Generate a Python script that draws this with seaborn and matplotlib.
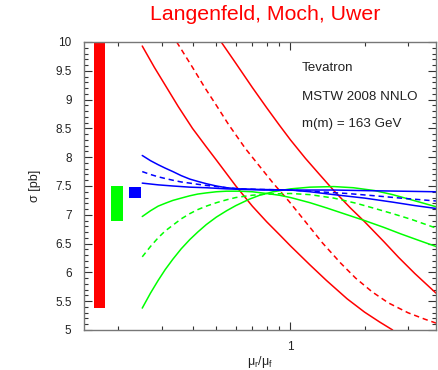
import matplotlib
matplotlib.use("Agg")
import matplotlib.pyplot as plt
import matplotlib.ticker as mticker
import seaborn as sns
import pandas as pd
import numpy as np

# ---------------- data ----------------
# red band (three curves)
red_lo_mu = [0.25, 0.28, 0.31, 0.35, 0.4, 0.455, 0.5, 0.6, 0.7, 0.8, 0.9, 1.0, 1.2, 1.4, 1.7, 2.0, 2.3, 2.6]
red_lo_sig = [9.93, 9.56, 9.25, 8.88, 8.50, 8.18, 7.95, 7.50, 7.15, 6.88, 6.66, 6.46, 6.13, 5.86, 5.54, 5.31, 5.14, 5.0]
red_mid_mu = [0.345, 0.4, 0.45, 0.5, 0.56, 0.656, 0.75, 0.85, 0.988, 1.15, 1.35, 1.6, 1.84, 2.15, 2.5, 3.0, 3.5, 3.9]
red_mid_sig = [10.0, 9.56, 9.20, 8.90, 8.57, 8.15, 7.84, 7.55, 7.23, 6.88, 6.51, 6.16, 5.90, 5.66, 5.47, 5.30, 5.19, 5.12]
red_hi_mu = [0.523, 0.6, 0.7, 0.8, 0.9, 1.0, 1.15, 1.3, 1.5, 1.75, 2.0, 2.4, 2.75, 3.2, 3.9]
red_hi_sig = [10.0, 9.63, 9.21, 8.86, 8.56, 8.30, 7.98, 7.72, 7.42, 7.12, 6.88, 6.53, 6.26, 5.98, 5.64]

# green band
green_a_mu = [0.25, 0.27, 0.29, 0.31, 0.333, 0.36, 0.39, 0.42, 0.455, 0.5, 0.55, 0.62, 0.7, 0.8, 0.9,
              1.0, 1.2, 1.4, 1.7, 2.0, 2.4, 2.8, 3.3, 3.9]
green_a_sig = [6.97, 7.07, 7.15, 7.20, 7.25, 7.29, 7.33, 7.36, 7.38, 7.40, 7.41, 7.41, 7.40, 7.37, 7.34,
               7.30, 7.21, 7.12, 7.00, 6.90, 6.78, 6.67, 6.56, 6.45]
green_mid_mu = [0.25, 0.27, 0.29, 0.31, 0.333, 0.36, 0.39, 0.42, 0.455, 0.5, 0.55, 0.6, 0.7, 0.8,
                1.0, 1.2, 1.5, 1.85, 2.2, 2.6, 3.1, 3.9]
green_mid_sig = [6.27, 6.45, 6.60, 6.72, 6.82, 6.93, 7.02, 7.09, 7.15, 7.21, 7.26, 7.30, 7.34, 7.36,
                 7.37, 7.35, 7.29, 7.20, 7.11, 7.02, 6.92, 6.77]
green_c_mu = [0.25, 0.27, 0.29, 0.31, 0.333, 0.36, 0.39, 0.42, 0.455, 0.5, 0.55, 0.6, 0.68, 0.75, 0.85,
              1.0, 1.2, 1.5, 1.8, 2.2, 2.6, 3.1, 3.9]
green_c_sig = [5.38, 5.64, 5.86, 6.05, 6.23, 6.41, 6.57, 6.70, 6.83, 6.96, 7.07, 7.16, 7.27, 7.34, 7.40,
               7.45, 7.48, 7.49, 7.47, 7.42, 7.35, 7.26, 7.14]

# blue band
blue_a_mu = [0.25, 0.27, 0.29, 0.31, 0.333, 0.36, 0.39, 0.42, 0.455, 0.5, 0.55, 0.62, 0.75, 1.0,
             1.2, 1.5, 2.0, 2.6, 3.2, 3.9]
blue_a_sig = [8.03, 7.94, 7.87, 7.81, 7.75, 7.68, 7.62, 7.58, 7.54, 7.50, 7.47, 7.45, 7.44, 7.43,
              7.40, 7.35, 7.29, 7.22, 7.16, 7.11]
blue_mid_mu = [0.25, 0.27, 0.29, 0.31, 0.333, 0.36, 0.39, 0.42, 0.455, 0.5, 0.55, 0.62, 0.75, 1.0,
               1.3, 1.7, 2.2, 2.8, 3.9]
blue_mid_sig = [7.75, 7.70, 7.66, 7.63, 7.60, 7.57, 7.55, 7.53, 7.51, 7.49, 7.47, 7.45, 7.44, 7.43,
                7.40, 7.37, 7.33, 7.29, 7.24]
blue_c_mu = [0.25, 0.29, 0.333, 0.39, 0.455, 0.55, 0.65, 0.8, 1.0, 1.5, 2.0, 2.8, 3.9]
blue_c_sig = [7.55, 7.52, 7.50, 7.48, 7.47, 7.45, 7.44, 7.43, 7.43, 7.43, 7.42, 7.41, 7.40]

# error bars (left, right, low, high)
bar_left = [0.159, 0.1875, 0.221]
bar_right = [0.177, 0.209, 0.247]
bar_low = [5.38, 6.90, 7.30]
bar_high = [10.5, 7.50, 7.49]
bar_colors = ["#ff0000", "#00ff00", "#0000ff"]

info_lines = ["Tevatron", "MSTW 2008 NNLO", "m(m) = 163 GeV"]

# ---------------- plot ----------------
sns.set_style("ticks")
plt.rcParams["font.family"] = ["Liberation Sans", "DejaVu Sans"]
plt.rcParams["mathtext.fontset"] = "custom"
plt.rcParams["mathtext.rm"] = "Liberation Sans"
plt.rcParams["mathtext.it"] = "Liberation Sans:italic"

fig = plt.figure(figsize=(4.38, 3.70), dpi=100)
ax = fig.add_axes([84 / 438, 40 / 370, 352 / 438, 288 / 370])
ax.set_xscale("log")

RED, GREEN, BLUE = "#ff0000", "#00ff00", "#0000ff"
dash = (0, (3.5, 2.5))
curves = [
    (red_lo_mu, red_lo_sig, RED, "-"),
    (red_mid_mu, red_mid_sig, RED, dash),
    (red_hi_mu, red_hi_sig, RED, "-"),
    (green_a_mu, green_a_sig, GREEN, "-"),
    (green_mid_mu, green_mid_sig, GREEN, dash),
    (green_c_mu, green_c_sig, GREEN, "-"),
    (blue_a_mu, blue_a_sig, BLUE, "-"),
    (blue_mid_mu, blue_mid_sig, BLUE, dash),
    (blue_c_mu, blue_c_sig, BLUE, "-"),
]
for mu, sig, col, ls in curves:
    df = pd.DataFrame({"mu": mu, "sigma": sig})
    sns.lineplot(data=df, x="mu", y="sigma", color=col, linestyle=ls,
                 linewidth=1.1, estimator=None, ax=ax)

for l, r, lo, hi, c in zip(bar_left, bar_right, bar_low, bar_high, bar_colors):
    ax.bar(l, hi - lo, width=r - l, bottom=lo, align="edge", color=c,
           edgecolor="none", linewidth=0)

ax.set_xlim(0.145, 3.9)
ax.set_ylim(5, 10)

# ticks
ax.yaxis.set_major_locator(mticker.MultipleLocator(0.5))
ax.yaxis.set_minor_locator(mticker.MultipleLocator(0.1))
ax.yaxis.set_major_formatter(mticker.FuncFormatter(lambda v, p: f"{v:g}"))
ax.xaxis.set_major_locator(mticker.LogLocator(base=10, numticks=10))
ax.xaxis.set_minor_locator(mticker.LogLocator(base=10, subs=np.arange(2, 10), numticks=10))
ax.xaxis.set_major_formatter(mticker.FuncFormatter(lambda v, p: f"{v:g}"))
ax.xaxis.set_minor_formatter(mticker.NullFormatter())

spine_col = "#777777"
for s in ax.spines.values():
    s.set_color(spine_col)
    s.set_linewidth(1.0)
    s.set_visible(True)
ax.tick_params(which="both", direction="in", top=True, right=True,
               color="#333333", labelcolor="#222222", labelsize=8.5)
ax.tick_params(which="major", length=6, width=0.8)
ax.tick_params(which="minor", length=3, width=0.8)
ax.tick_params(axis="y", pad=9)
ax.tick_params(axis="x", pad=8)

ax.set_xlabel(r"$\mathrm{\mu_r/\mu_f}$", fontsize=9, color="#222222", labelpad=1)
ax.set_ylabel("σ [pb]", fontsize=9, color="#222222", labelpad=10)

for txt, yy in zip(info_lines, [0.91, 0.81, 0.715]):
    ax.text(0.618, yy, txt, transform=ax.transAxes,
            fontsize=9.6, color="#222222", va="center", ha="left")

fig.text(265 / 438, 1 - 15 / 370, "Langenfeld, Moch, Uwer", color="#ff0000",
         fontsize=15.3, ha="center", va="center")

fig.savefig("out.png", dpi=100)
